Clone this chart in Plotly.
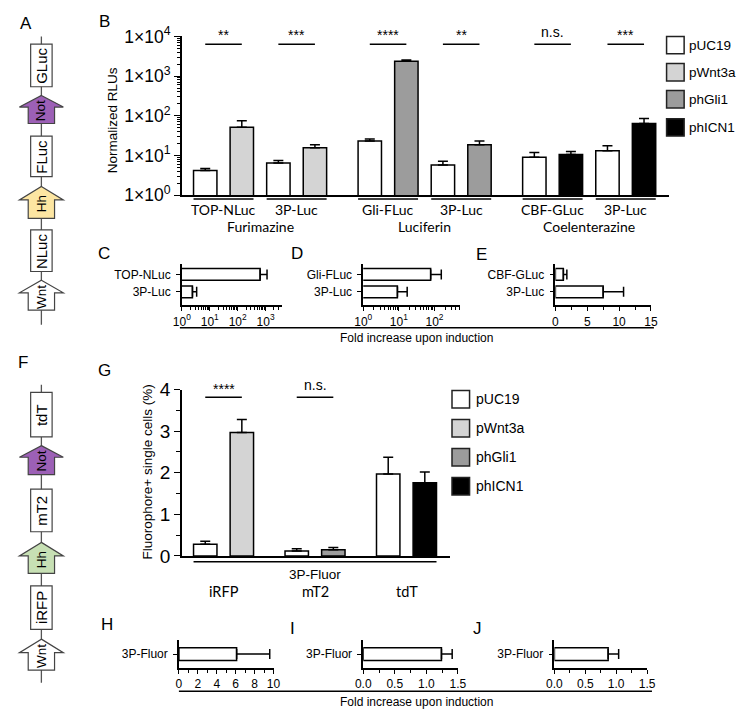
import plotly.graph_objects as go

# page body keeps an 8px margin, so the figure is drawn 16px smaller and offset by 8px
OFF = 8
FW, FH = 746 - 2 * OFF, 721 - 2 * OFF
def X(px): return (px - OFF) / FW
def Y(py): return 1 - (py - OFF) / FH

FONT = "Arial, Liberation Sans, sans-serif"
CAL = "Lato, Carlito, sans-serif"

# ---------------- data ----------------
conditions = ["pUC19", "pWnt3a", "phGli1", "phICN1"]
cond_colors = ["#ffffff", "#d4d4d4", "#9c9c9c", "#000000"]

# Panel B
b_substrates = ["Furimazine", "Luciferin", "Coelenterazine"]
b_reporters = ["TOP-NLuc", "3P-Luc", "Gli-FLuc", "3P-Luc", "CBF-GLuc", "3P-Luc"]
b_inducer = ["pWnt3a", "pWnt3a", "phGli1", "phGli1", "phICN1", "phICN1"]
b_ctrl = [4.2, 6.4, 23, 5.7, 9.0, 13.2]
b_ctrl_err = [0.5, 1.1, 3, 1.4, 2.8, 4.3]
b_ind = [51, 15.7, 2360, 18.5, 10.5, 64]
b_ind_err = [24, 2.8, 190, 4.5, 2.0, 21]
b_sig = ["**", "***", "****", "**", "n.s.", "***"]
b_yticks = [1, 10, 100, 1000, 10000]
b_yticktext = ["1×10<sup>0</sup>", "1×10<sup>1</sup>", "1×10<sup>2</sup>", "1×10<sup>3</sup>", "1×10<sup>4</sup>"]

# Panels C, D, E (fold increase)
c_labels = ["TOP-NLuc", "3P-Luc"]
c_vals = [640, 2.4]
c_err = [490, 1.0]
d_labels = ["Gli-FLuc", "3P-Luc"]
d_vals = [78, 9.1]
d_err = [77, 8.0]
e_labels = ["CBF-GLuc", "3P-Luc"]
e_vals = [1.25, 7.5]
e_err = [0.55, 3.2]
log_ticks = [1, 10, 100, 1000]
log_ticktext = ["10<sup>0</sup>", "10<sup>1</sup>", "10<sup>2</sup>", "10<sup>3</sup>"]

# Panel G
g_fluors = ["iRFP", "mT2", "tdT"]
g_inducer = ["pWnt3a", "phGli1", "phICN1"]
g_ctrl = [0.28, 0.12, 1.97]
g_ctrl_err = [0.07, 0.05, 0.40]
g_ind = [2.97, 0.15, 1.76]
g_ind_err = [0.31, 0.05, 0.26]
g_sig = ["****", "n.s.", ""]

# Panels H, I, J
hij_label = "3P-Fluor"
h_val, h_err = 6.1, 3.5
i_val, i_err = 1.24, 0.17
j_val, j_err = 0.87, 0.17

# ---------------- figure ----------------
fig = go.Figure()
annotations = []
shapes = []
LINE = dict(color="black", width=1.5)
BARLINE = dict(color="black", width=1.5)

def ann(x, y, text, size=12, family=FONT, xref="paper", yref="paper", xanchor="center", yanchor="middle", angle=0):
    annotations.append(dict(x=x, y=y, text=text, xref=xref, yref=yref, showarrow=False,
                            xanchor=xanchor, yanchor=yanchor, textangle=angle,
                            font=dict(family=family, size=size, color="black")))

def errd(vals):
    return dict(type="data", symmetric=False, array=vals, arrayminus=[0] * len(vals),
                color="black", thickness=1.5, width=5)

# ---- Panel B bars ----
BW = 0.64
b_pos_c = [2 * i + 0.5 * (i // 2) for i in range(len(b_reporters))]
b_pos_i = [p + 1 for p in b_pos_c]
for cond, col in zip(conditions, cond_colors):
    if cond == "pUC19":
        xs, ys, es = b_pos_c, b_ctrl, b_ctrl_err
    else:
        idx = [k for k, v in enumerate(b_inducer) if v == cond]
        xs = [b_pos_i[k] for k in idx]
        ys = [b_ind[k] for k in idx]
        es = [b_ind_err[k] for k in idx]
    fig.add_trace(go.Bar(x=xs, y=ys, width=BW, marker=dict(color=col, line=BARLINE),
                         error_y=errd(es), xaxis="x", yaxis="y", showlegend=False))

for i, rep in enumerate(b_reporters):
    pc, pi = b_pos_c[i], b_pos_i[i]
    ann((pc + pi) / 2, Y(204), rep, size=14, family=CAL, xref="x")
    shapes.append(dict(type="line", xref="x", yref="paper", x0=pc - BW / 2, x1=pi + BW / 2,
                       y0=Y(193), y1=Y(193), line=LINE))
    shapes.append(dict(type="line", xref="x", yref="paper", x0=pc, x1=pi,
                       y0=Y(33), y1=Y(33), line=LINE))
    if b_sig[i] == "n.s.":
        ann((pc + pi) / 2, Y(31), b_sig[i], size=14, xref="x", yanchor="bottom")
    else:
        ann((pc + pi) / 2, Y(24), b_sig[i], size=14, xref="x", yanchor="middle")
for g, sub in enumerate(b_substrates):
    ann((b_pos_c[2 * g] + b_pos_i[2 * g + 1]) / 2, Y(221), sub, size=14, family=CAL, xref="x")

# ---- Panel C, D, E ----
HBW = 0.67
for (labels, vals, errs, xa, ya) in [(c_labels, c_vals, c_err, "x2", "y2"),
                                      (d_labels, d_vals, d_err, "x3", "y3"),
                                      (e_labels, e_vals, e_err, "x4", "y4")]:
    fig.add_trace(go.Bar(x=vals, y=[1, 0], orientation="h", width=HBW,
                         marker=dict(color="white", line=BARLINE), error_x=errd(errs),
                         xaxis=xa, yaxis=ya, showlegend=False))

# ---- Panel G ----
g_pos_c = [2.5 * i for i in range(len(g_fluors))]
g_pos_i = [p + 1 for p in g_pos_c]
fig.add_trace(go.Bar(x=g_pos_c, y=g_ctrl, width=BW, marker=dict(color=cond_colors[0], line=BARLINE),
                     error_y=errd(g_ctrl_err), xaxis="x5", yaxis="y5", showlegend=False))
fig.add_trace(go.Bar(x=g_pos_i, y=g_ind, width=BW,
                     marker=dict(color=[cond_colors[conditions.index(c)] for c in g_inducer], line=BARLINE),
                     error_y=errd(g_ind_err), xaxis="x5", yaxis="y5", showlegend=False))
for i, fl in enumerate(g_fluors):
    pc, pi = g_pos_c[i], g_pos_i[i]
    ann((pc + pi) / 2, Y(599), fl, size=14.5, family=CAL, xref="x5")
    if g_sig[i]:
        shapes.append(dict(type="line", xref="x5", yref="paper", x0=pc, x1=pi,
                           y0=Y(398), y1=Y(398), line=LINE))
        if g_sig[i] == "n.s.":
            ann((pc + pi) / 2, Y(396), g_sig[i], size=14, xref="x5", yanchor="bottom")
        else:
            ann((pc + pi) / 2, Y(389), g_sig[i], size=14, xref="x5")
shapes.append(dict(type="line", xref="x5", yref="paper", x0=g_pos_c[0] - BW / 2, x1=g_pos_i[-1] + BW / 2,
                   y0=Y(568), y1=Y(568), line=LINE))
ann((g_pos_c[0] + g_pos_i[-1]) / 2, Y(581), hij_label, size=13.5, xref="x5")

# ---- Panels H, I, J ----
for (v, e, xa, ya) in [(h_val, h_err, "x6", "y6"), (i_val, i_err, "x7", "y7"), (j_val, j_err, "x8", "y8")]:
    fig.add_trace(go.Bar(x=[v], y=[0], orientation="h", width=0.45,
                         marker=dict(color="white", line=BARLINE), error_x=errd([e]),
                         xaxis=xa, yaxis=ya, showlegend=False))

# ---------------- axes ----------------
common = dict(showline=True, linecolor="black", linewidth=1.5, ticks="outside", tickcolor="black",
              tickwidth=1.2, ticklen=4, showgrid=False, zeroline=False, fixedrange=True,
              tickfont=dict(family=FONT, size=12, color="black"))
cat_y = dict(ticklabelstandoff=3)

def xdom(a, b): return [X(a), X(b)]
def ydom(bottom, top): return [Y(bottom), Y(top)]

log_minor = [k * 10 ** d for d in range(4) for k in range(2, 10)]

layout_axes = dict(
    xaxis=dict(common, domain=xdom(177, 676), range=[-0.64, 12.67], showticklabels=False, ticks="", anchor="y"),
    yaxis=dict(common, domain=ydom(189, 25), type="log", range=[0, 4], tickmode="array",
               tickvals=b_yticks, ticktext=b_yticktext, ticklen=6,
               tickfont=dict(family=FONT, size=17.5, color="black"),
               minor=dict(ticks="outside", ticklen=3, tickcolor="black", tickmode="array", tickvals=log_minor),
               anchor="x"),
    xaxis2=dict(common, domain=xdom(177, 280), type="log", range=[0, 3.6], tickmode="array",
                tickvals=log_ticks, ticktext=log_ticktext,
                minor=dict(ticks="outside", ticklen=2.5, tickcolor="black", tickmode="array", tickvals=log_minor),
                anchor="y2"),
    yaxis2=dict(common, **cat_y, domain=ydom(303, 260), range=[-0.78, 1.61], tickmode="array", tickvals=[1, 0],
                ticktext=c_labels, anchor="x2"),
    xaxis3=dict(common, domain=xdom(363, 462), type="log", range=[0, 2.71], tickmode="array",
                tickvals=log_ticks[:3], ticktext=log_ticktext[:3],
                minor=dict(ticks="outside", ticklen=2.5, tickcolor="black", tickmode="array", tickvals=log_minor),
                anchor="y3"),
    yaxis3=dict(common, **cat_y, domain=ydom(303, 260), range=[-0.78, 1.61], tickmode="array", tickvals=[1, 0],
                ticktext=d_labels, anchor="x3"),
    xaxis4=dict(common, domain=xdom(560, 658), range=[0, 15], dtick=5,
                minor=dict(ticks="outside", ticklen=3, tickcolor="black", dtick=2.5), anchor="y4"),
    yaxis4=dict(common, **cat_y, domain=ydom(303, 260), range=[-0.78, 1.61], tickmode="array", tickvals=[1, 0],
                ticktext=e_labels, anchor="x4"),
    xaxis5=dict(common, domain=xdom(177, 452), range=[-0.64, 6.69], showticklabels=False, ticks="", anchor="y5"),
    yaxis5=dict(common, domain=ydom(562, 390), range=[0, 4], dtick=1, ticklen=6,
                tickfont=dict(family=FONT, size=19, color="black"),
                minor=dict(ticks="outside", ticklen=4, tickcolor="black", dtick=0.5), anchor="x5"),
    xaxis6=dict(common, domain=xdom(174, 271), range=[0, 10], dtick=2,
                minor=dict(ticks="outside", ticklen=3, tickcolor="black", dtick=1), anchor="y6"),
    yaxis6=dict(common, **cat_y, domain=ydom(678, 649), range=[-0.5, 0.5], tickmode="array", tickvals=[0],
                ticktext=[hij_label], anchor="x6"),
    xaxis7=dict(common, domain=xdom(363, 460), range=[0, 1.5], dtick=0.5, tickformat=".1f",
                minor=dict(ticks="outside", ticklen=3, tickcolor="black", dtick=0.25), anchor="y7"),
    yaxis7=dict(common, **cat_y, domain=ydom(678, 649), range=[-0.5, 0.5], tickmode="array", tickvals=[0],
                ticktext=[hij_label], anchor="x7"),
    xaxis8=dict(common, domain=xdom(559, 654), range=[0, 1.5], dtick=0.5, tickformat=".1f",
                minor=dict(ticks="outside", ticklen=3, tickcolor="black", dtick=0.25), anchor="y8"),
    yaxis8=dict(common, **cat_y, domain=ydom(678, 649), range=[-0.5, 0.5], tickmode="array", tickvals=[0],
                ticktext=[hij_label], anchor="x8"),
)

# axis titles / shared labels
ann(X(106), Y(112), "Normalized RLUs", size=13.5, angle=-90)
ann(X(142), Y(475), "Fluorophore+ single cells (%)", size=13.5, angle=-90)
shapes.append(dict(type="line", xref="paper", yref="paper", x0=X(175), x1=X(661), y0=Y(326), y1=Y(326), line=LINE))
ann(X(418), Y(337), "Fold increase upon induction", size=12)
shapes.append(dict(type="line", xref="paper", yref="paper", x0=X(174), x1=X(659), y0=Y(702), y1=Y(702), line=LINE))
ann(X(418), Y(713), "Fold increase upon induction", size=12)

# legends (B and G)
def legend_block(x0, ycenters, text_x, size):
    for cond, col, yc in zip(conditions, cond_colors, ycenters):
        shapes.append(dict(type="rect", xref="paper", yref="paper", x0=X(x0), x1=X(x0 + 18),
                           y0=Y(yc + 9), y1=Y(yc - 9), fillcolor=col, line=dict(color="#222", width=1.5)))
        ann(X(text_x), Y(yc), cond, size=size, xanchor="left")
legend_block(674, [34, 62, 90, 119], 695, 13.5)
legend_block(454, [400, 430, 460, 490], 477, 14)

# panel letters
for letter, (px, py) in {"A": (17, 12), "B": (98, 10), "C": (97, 249), "D": (295, 249), "E": (484, 250),
                         "F": (14, 362), "G": (98, 370), "H": (100, 633), "I": (290, 637), "J": (480, 637)}.items():
    ann(X(px), Y(py), letter, size=17)

# construct diagrams (A and F)
CX = 33
OUT = dict(color="#444", width=1.2)
def vline(y0, y1):
    shapes.append(dict(type="line", xref="paper", yref="paper", x0=X(CX), x1=X(CX), y0=Y(y0), y1=Y(y1),
                       line=dict(color="#555", width=1.3)))
def box(y0, y1, label):
    shapes.append(dict(type="rect", xref="paper", yref="paper", x0=X(CX - 11), x1=X(CX + 11),
                       y0=Y(y1), y1=Y(y0), fillcolor="white", line=OUT))
    ann(X(CX), Y((y0 + y1) / 2), label, size=15, angle=-90)
def arrow(tip, base, end, color, label, ly):
    pts = [(CX, tip), (CX + 22.5, base), (CX + 13.5, base), (CX + 13.5, end), (CX - 13.5, end),
           (CX - 13.5, base), (CX - 22.5, base)]
    path = "M " + " L ".join(f"{X(a):.5f},{Y(b):.5f}" for a, b in pts) + " Z"
    shapes.append(dict(type="path", xref="paper", yref="paper", path=path, fillcolor=color, line=OUT))
    ann(X(CX), Y(ly), label, size=13.5, angle=-90)

vline(25, 323)
box(33, 77, "GLuc")
arrow(86, 98, 115, "#9c60b6", "Not", 102)
box(128, 170, "FLuc")
arrow(180, 194, 213, "#fde6a2", "Hh", 198)
box(225, 268, "NLuc")
arrow(277, 290, 308, "#ffffff", "Wnt", 294)

vline(385, 693)
box(393, 439, "tdT")
arrow(448, 460, 478, "#9c60b6", "Not", 464)
box(493, 537, "mT2")
arrow(548, 562, 580, "#c7e0b4", "Hh", 566)
box(593, 638, "iRFP")
arrow(648, 662, 680, "#ffffff", "Wnt", 665)

fig.update_layout(
    width=FW, height=FH, margin=dict(l=0, r=0, t=0, b=0),
    paper_bgcolor="white", plot_bgcolor="white",
    font=dict(family=FONT, color="black"),
    showlegend=False, barmode="overlay",
    annotations=annotations, shapes=shapes,
    **layout_axes,
)

fig.write_html("out.html", config={"displayModeBar": False})
